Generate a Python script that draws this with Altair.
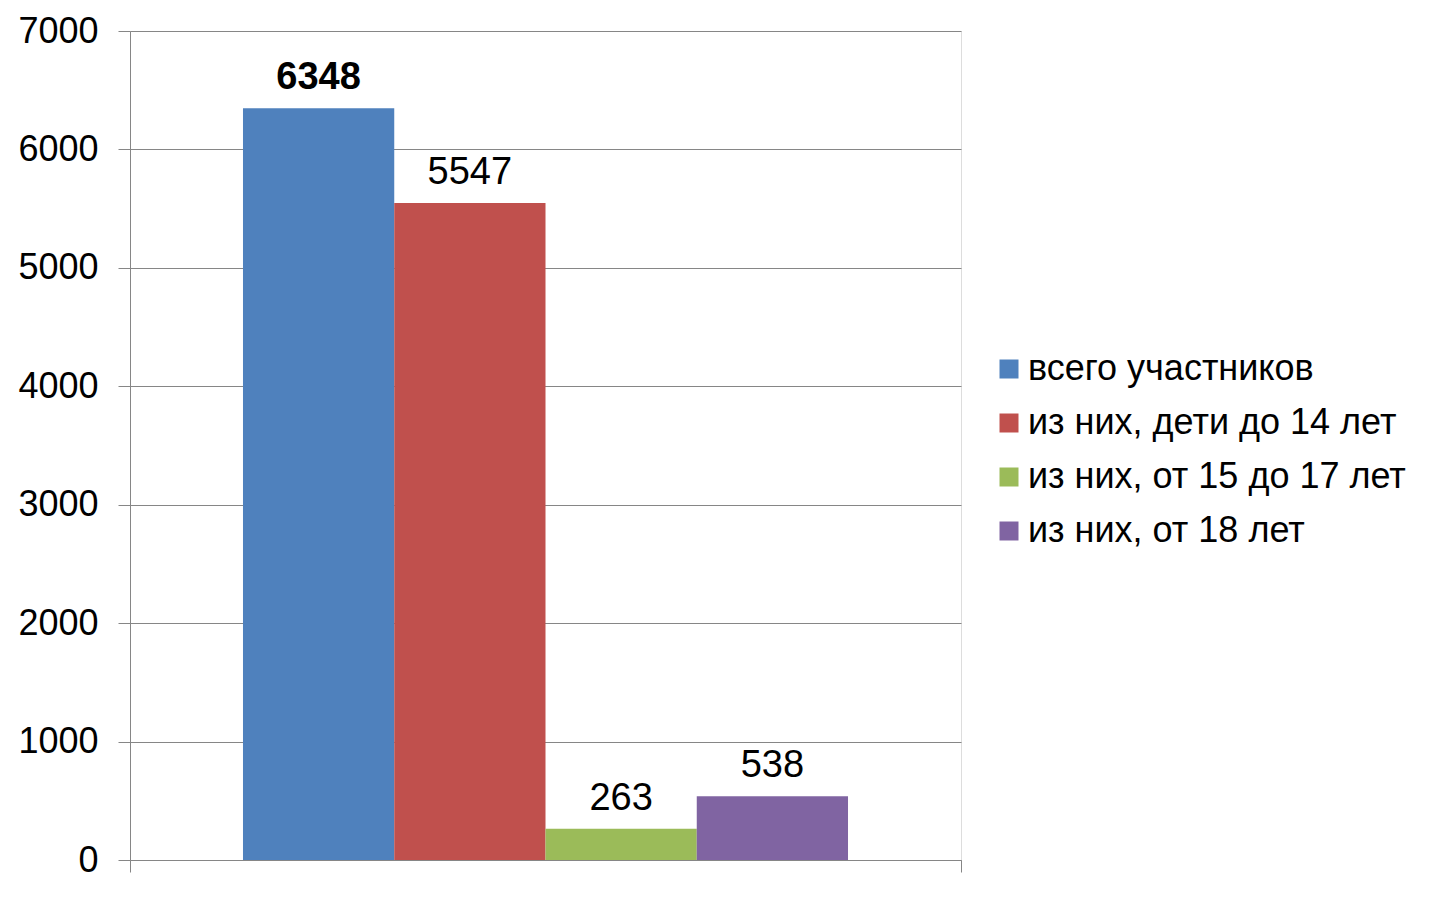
import altair as alt
import pandas as pd

series = ["всего участников", "из них, дети до 14 лет", "из них, от 15 до 17 лет", "из них, от 18 лет"]
values = [6348, 5547, 263, 538]
colors = ["#4F81BD", "#C0504D", "#9BBB59", "#8064A2"]
y_ticks = [0, 1000, 2000, 3000, 4000, 5000, 6000, 7000]

df = pd.DataFrame({"cat": [""] * len(series), "series": series, "value": values})

FONT = "Liberation Sans"
GRAY = "#868686"

x_enc = alt.X("cat:N", title=None,
              scale=alt.Scale(paddingInner=0, paddingOuter=0),
              axis=alt.Axis(labels=False, tickBand="extent", ticks=True, tickSize=12,
                            tickColor=GRAY, domainColor=GRAY, grid=False, title=None))
xo_enc = alt.XOffset("series:N", sort=series,
                     scale=alt.Scale(paddingInner=0, paddingOuter=0.747))
y_enc = alt.Y("value:Q", title=None,
              scale=alt.Scale(domain=[0, 7000], nice=False),
              axis=alt.Axis(values=y_ticks, format="d", tickSize=12, tickColor=GRAY, domainColor=GRAY,
                            gridColor=GRAY, labelFontSize=36, labelFont=FONT, labelColor="#000000",
                            labelPadding=20, title=None))

bars = alt.Chart(df).mark_bar().encode(
    x=x_enc, xOffset=xo_enc, y=y_enc,
    color=alt.Color("series:N", sort=series,
                    scale=alt.Scale(domain=series, range=colors),
                    legend=alt.Legend(title=None, orient="none", legendX=861, legendY=320,
                                      symbolType="square", symbolSize=361, symbolStrokeWidth=0,
                                      labelFontSize=36, labelFont=FONT, labelColor="#000000",
                                      labelOffset=1, rowPadding=18, labelLimit=600)),
)

def text_layer(weight, cond):
    return alt.Chart(df).transform_filter(cond).mark_text(
        baseline="bottom", dy=-11, fontSize=38, font=FONT, color="#000000", fontWeight=weight
    ).encode(
        x=alt.X("cat:N"), xOffset=alt.XOffset("series:N", sort=series), y=alt.Y("value:Q"),
        text=alt.Text("value:Q"),
    )

labels_bold = text_layer("bold", alt.datum.series == series[0])
labels_norm = text_layer("normal", alt.datum.series != series[0])

chart = alt.layer(bars, labels_bold, labels_norm).properties(
    width=831, height=829,
    padding={"left": 122, "top": 23, "right": 470, "bottom": 25},
    autosize=alt.AutoSizeParams(type="none"),
).configure_view(stroke=None).configure(background="#FFFFFF")

chart.save("out.html", embed_options={"renderer": "svg", "actions": False})
